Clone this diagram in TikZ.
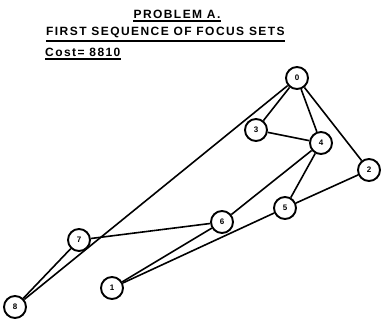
\documentclass[tikz,border=0pt]{standalone}
\usepackage{fontspec}
\setmainfont{Liberation Sans}
\newfontfamily\lettering[LetterSpace=12]{Liberation Sans}
\usepackage{tikz}

\begin{document}
\begin{tikzpicture}[x=1pt,y=-1pt,
  vtx/.style={circle,draw,line width=1.9pt,minimum size=22pt,inner sep=0pt,fill=white,font=\bfseries\fontsize{8}{9}\selectfont},
  ttl/.style={inner xsep=0pt,inner ysep=2.5pt,font=\lettering\bfseries\fontsize{12}{14}\selectfont}]
\useasboundingbox (0,0) rectangle (381,322);
\node[ttl,anchor=south] (head) at (177,21) {PROBLEM A.};
\node[ttl,anchor=south west] (seq) at (46,41) {FIRST SEQUENCE OF FOCUS SETS};
\node[ttl,anchor=south west] (cost) at (45,59) {Cost= 8810};
\foreach \t in {head,seq,cost}
  {\draw[line width=1.7pt] (\t.south west)--(\t.south east);}
\foreach \n/\x/\y in {0/297/78,3/256/130,4/321/143,2/369/170,5/285/208,6/222/222,7/79/240,1/112/288,8/15/307}
  {\node[vtx] (v\n) at (\x,\y) {\n};}
\foreach \a/\b in {0/3,0/4,0/2,0/8,3/4,4/6,4/5,2/5,5/1,6/1,6/7,7/8}
  {\draw[line width=1.6pt] (v\a)--(v\b);}
\end{tikzpicture}
\end{document}
